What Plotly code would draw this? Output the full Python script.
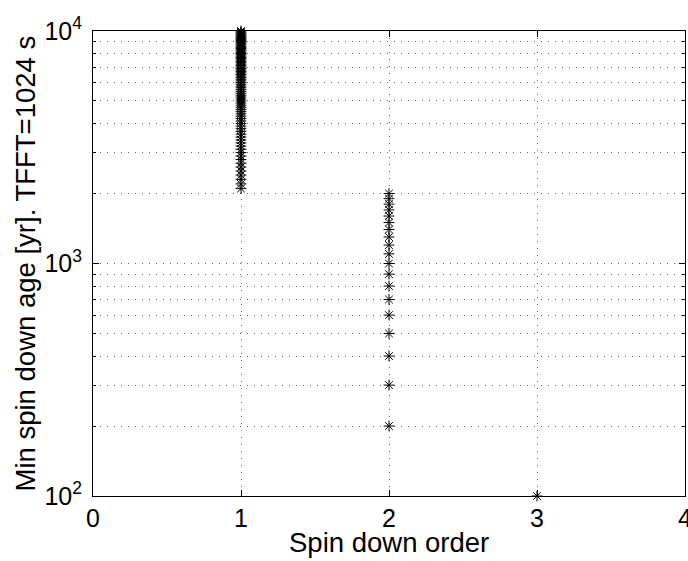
import plotly.graph_objects as go

# Data
ages_order1 = [2100, 2200, 2300, 2400, 2500, 2600, 2700, 2800, 2900, 3000,
               3100, 3200, 3300, 3400, 3500, 3600, 3700, 3800, 3900, 4000,
               4100, 4200, 4300, 4400, 4500, 4600, 4700, 4800, 4900, 5000,
               5100, 5200, 5300, 5400, 5500, 5600, 5700, 5800, 5900, 6000,
               6100, 6200, 6300, 6400, 6500, 6600, 6700, 6800, 6900, 7000,
               7100, 7200, 7300, 7400, 7500, 7600, 7700, 7800, 7900, 8000,
               8100, 8200, 8300, 8400, 8500, 8600, 8700, 8800, 8900, 9000,
               9100, 9200, 9300, 9400, 9500, 9600, 9700, 9800, 9900, 10000]
ages_order2 = [200, 300, 400, 500, 600, 700, 800, 900, 1000, 1100, 1200,
               1300, 1400, 1500, 1600, 1700, 1800, 1900, 2000]
ages_order3 = [100]

x_ticks = [0, 1, 2, 3, 4]
y_ticks = [100, 1000, 10000]
y_tick_labels = ["10<sup>2</sup>", "10<sup>3</sup>", "10<sup>4</sup>"]
y_minor = [200, 300, 400, 500, 600, 700, 800, 900,
           2000, 3000, 4000, 5000, 6000, 7000, 8000, 9000]

x_title = "Spin down order"
y_title = "Min spin down age [yr]. TFFT=1024 s"

orders = [1] * len(ages_order1) + [2] * len(ages_order2) + [3] * len(ages_order3)
ages = ages_order1 + ages_order2 + ages_order3

FONT = "Liberation Sans, Arial, Helvetica, sans-serif"
W, H = 688, 561
ML, MR, MT, MB = 93, 3, 31, 65
PW, PH = W - ML - MR, H - MT - MB

fig = go.Figure()
fig.add_trace(go.Scatter(
    x=orders, y=ages, mode="markers",
    marker=dict(symbol="asterisk-open", size=9, color="black",
                line=dict(color="black", width=1)),
    cliponaxis=False, showlegend=False,
))

grid = dict(showgrid=True, gridcolor="#666666", gridwidth=1, griddash="1px,6px")

fig.update_layout(
    width=W, height=H,
    margin=dict(l=ML, r=MR, t=MT, b=MB),
    paper_bgcolor="white", plot_bgcolor="white",
    font=dict(family=FONT, size=25, color="black"),
    xaxis=dict(
        range=[0, 4], tickvals=x_ticks, ticks="inside", ticklen=6,
        tickcolor="black", showline=True, linecolor="black", linewidth=1,
        mirror="allticks", zeroline=False, automargin=False,
        tickfont=dict(size=25), ticklabelstandoff=0,
        ticklabeloverflow="allow",
        **grid,
    ),
    yaxis=dict(
        type="log", range=[2, 4], tickvals=y_ticks, ticktext=y_tick_labels,
        ticks="inside", ticklen=6, tickcolor="black", showline=True,
        linecolor="black", linewidth=1, mirror="allticks", zeroline=False,
        automargin=False, tickfont=dict(size=25), ticklabelstandoff=5,
        ticklabeloverflow="allow",
        minor=dict(tickmode="array", tickvals=y_minor, ticks="inside", ticklen=3,
                   tickcolor="black", showgrid=True, gridcolor="#666666",
                   griddash="1px,6px"),
        **grid,
    ),
    annotations=[
        dict(text=x_title, xref="paper", yref="paper", x=0.5,
             y=-46 / PH, xanchor="center", yanchor="middle", showarrow=False,
             font=dict(size=27.5)),
        dict(text=y_title, xref="paper", yref="paper", x=-68 / PW, y=0.5,
             xanchor="center", yanchor="middle", textangle=-90, showarrow=False,
             font=dict(size=27.5)),
    ],
)

fig.write_html("out.html", config={"displayModeBar": False},
               post_script="document.body.style.margin='0';document.body.style.overflow='hidden';")
